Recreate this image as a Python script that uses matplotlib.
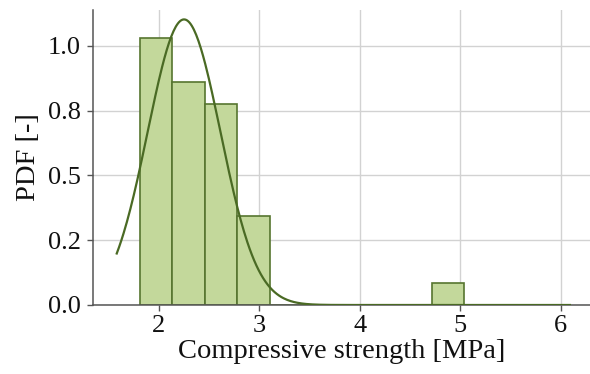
import numpy as np
import matplotlib
matplotlib.use("Agg")
import matplotlib.pyplot as plt

# Histogram (density)
bin_edges = [1.81, 2.133, 2.456, 2.779, 3.102, 3.425, 3.748, 4.071, 4.394, 4.717, 5.04]
densities = [1.032, 0.860, 0.774, 0.344, 0.0, 0.0, 0.0, 0.0, 0.0, 0.086]

# Fitted normal PDF parameters
fit_mean = 2.25
fit_std = 0.362
curve_range = (1.58, 6.09)

yticks = [0.0, 0.25, 0.5, 0.75, 1.0]
ytick_labels = ["0.0", "0.2", "0.5", "0.8", "1.0"]
xticks = [2, 3, 4, 5, 6]

plt.rcParams['font.family'] = ['Liberation Serif', 'DejaVu Serif']

fig = plt.figure(figsize=(5.9, 3.74), dpi=100)
ax = fig.add_axes([0.158, 0.1845, 0.842, 0.7885])

edges = np.array(bin_edges)
widths = np.diff(edges)
ax.bar(edges[:-1], densities, width=widths, align='edge',
       color='#c3d89b', edgecolor='#56752f', linewidth=1.2, zorder=2)

xs = np.linspace(curve_range[0], curve_range[1], 400)
pdf = np.exp(-0.5 * ((xs - fit_mean) / fit_std) ** 2) / (fit_std * np.sqrt(2 * np.pi))
ax.plot(xs, pdf, color='#4a6a24', linewidth=1.6, zorder=3)

ax.set_xlim(1.346, 6.29)
ax.set_ylim(0, 1.138)
ax.set_xticks(xticks)
ax.set_yticks(yticks)
ax.set_yticklabels(ytick_labels)
ax.grid(True, color='#d2d2d2', linewidth=1.0, zorder=0)
ax.set_axisbelow(True)
for s in ['top', 'right']:
    ax.spines[s].set_visible(False)
for s in ['left', 'bottom']:
    ax.spines[s].set_color('#555555')
    ax.spines[s].set_linewidth(1.1)
ax.tick_params(axis='both', labelsize=19, length=4, width=1.0, color='#555555',
               labelcolor='#111111')
ax.tick_params(axis='y', pad=5)
ax.tick_params(axis='x', pad=3)
ax.set_xlabel("Compressive strength [MPa]", fontsize=20.5, color='#111111', labelpad=2)
ax.set_ylabel("PDF [-]", fontsize=20.5, color='#111111', labelpad=5)

fig.savefig("out.png", dpi=100)
